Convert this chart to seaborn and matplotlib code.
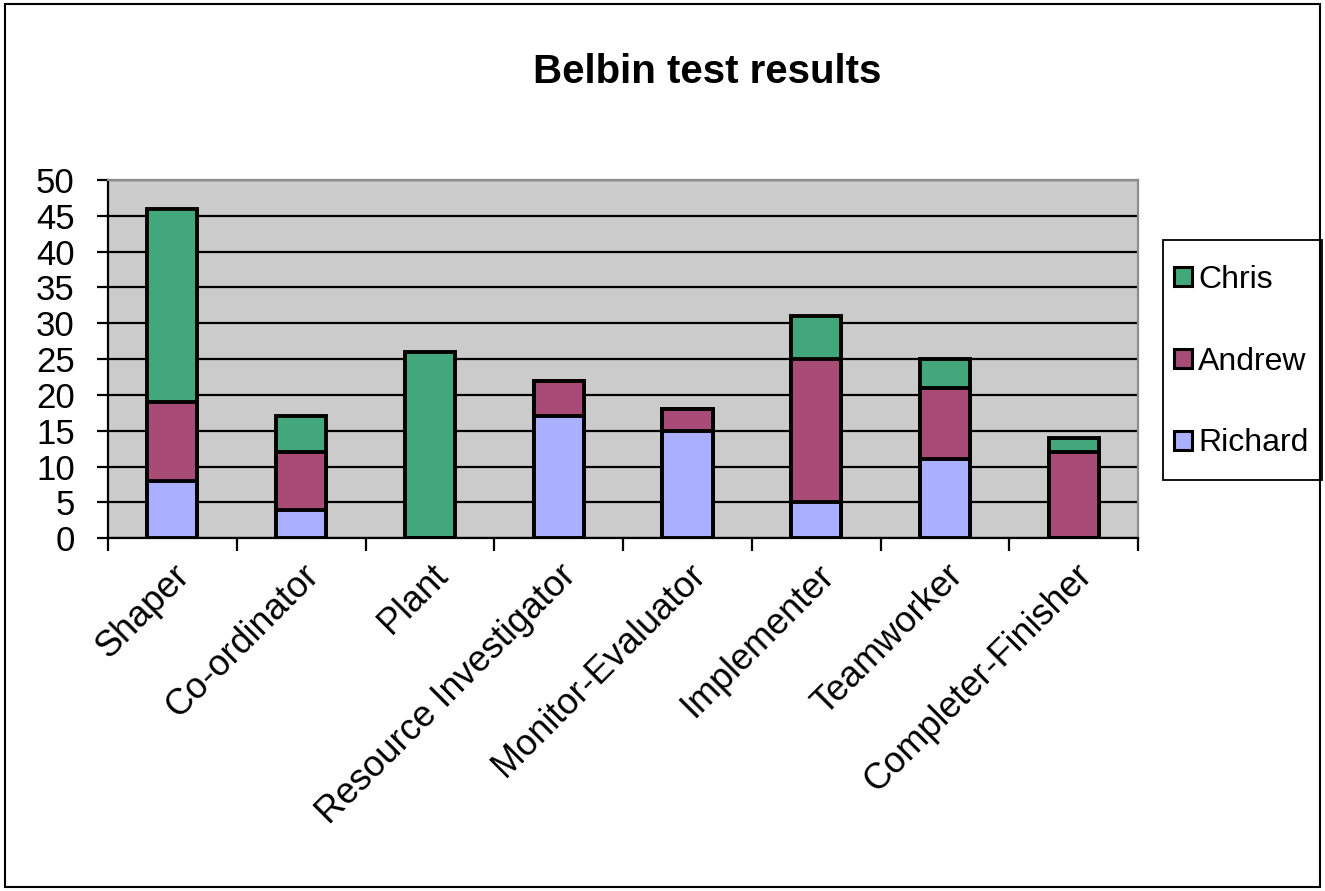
import numpy as np
import pandas as pd
import matplotlib
matplotlib.use("Agg")
import matplotlib.pyplot as plt
import seaborn as sns
from matplotlib.patches import Patch, Rectangle

roles = ["Shaper", "Co-ordinator", "Plant", "Resource Investigator",
         "Monitor-Evaluator", "Implementer", "Teamworker", "Completer-Finisher"]
richard = [8, 4, 0, 17, 15, 5, 11, 0]
andrew = [11, 8, 0, 5, 3, 20, 10, 12]
chris = [27, 5, 26, 0, 0, 6, 4, 2]

colors = {"Richard": "#AAB0FF", "Andrew": "#A84B77", "Chris": "#42A77B"}


def main():
    df = pd.DataFrame({"role": roles, "Richard": richard,
                       "Andrew": andrew, "Chris": chris})
    # cumulative heights so that the layers stack
    df["lvl_richard"] = df["Richard"]
    df["lvl_andrew"] = df["Richard"] + df["Andrew"]
    df["lvl_chris"] = df["lvl_andrew"] + df["Chris"]

    sns.set_theme(style="white", rc={"text.color": "black",
                                     "xtick.color": "black",
                                     "ytick.color": "black",
                                     "axes.labelcolor": "black"})
    plt.rcParams["font.family"] = ["Liberation Sans", "DejaVu Sans"]

    fig = plt.figure(figsize=(13.25, 8.91), dpi=100)
    ax = fig.add_axes([0.0815, 0.396, 0.7775, 0.402])
    ax.set_facecolor("#CBCBCB")

    for col, name in [("lvl_chris", "Chris"), ("lvl_andrew", "Andrew"),
                      ("lvl_richard", "Richard")]:
        sns.barplot(data=df, x="role", y=col, color=colors[name], width=0.39,
                    edgecolor="black", linewidth=2.8, saturation=1, ax=ax,
                    zorder=3)

    ax.set_ylim(0, 50)
    ax.set_xlim(-0.5, len(roles) - 0.5)
    ax.set_yticks(np.arange(0, 51, 5))
    ax.yaxis.grid(True, color="black", linewidth=1.6, zorder=1)
    ax.set_axisbelow(True)
    ax.set_xlabel("")
    ax.set_ylabel("")

    ax.set_xticks(range(len(roles)))
    ax.set_xticklabels(roles, rotation=45, ha="right", rotation_mode="anchor",
                       fontsize=26)
    ax.set_xticks(np.arange(-0.5, len(roles), 1), minor=True)
    ax.tick_params(axis="x", which="major", length=0, pad=14)
    ax.tick_params(axis="x", which="minor", length=9, width=1.6,
                   color="black", direction="out", bottom=True)
    ax.tick_params(axis="y", length=8, width=1.6, color="black",
                   direction="out", left=True, labelsize=25, pad=16)

    for s in ["left", "bottom"]:
        ax.spines[s].set_color("black")
        ax.spines[s].set_linewidth(1.6)
    for s in ["top", "right"]:
        ax.spines[s].set_color("#8C8C8C")
        ax.spines[s].set_linewidth(1.6)

    # legend drawn without its own frame; the box is a separate rectangle
    handles = [Patch(facecolor=colors[n], edgecolor="black", linewidth=2.2,
                     label=n) for n in ["Chris", "Andrew", "Richard"]]
    fig.legend(handles=handles, loc="center left",
               bbox_to_anchor=(0.886, 0.594), fontsize=23, frameon=False,
               handlelength=0.55, handleheight=0.55, handletextpad=0.2,
               labelspacing=1.62, borderpad=0, borderaxespad=0)
    fig.patches.append(Rectangle((0.8777, 0.4613), 0.12, 0.2693,
                                 transform=fig.transFigure, fill=False,
                                 edgecolor="black", linewidth=1.3))

    fig.text(0.534, 0.919, "Belbin test results", ha="center", va="center",
             fontsize=29, fontweight="bold")

    fig.patches.append(Rectangle((0.004, 0.004), 0.992, 0.992,
                                 transform=fig.transFigure, fill=False,
                                 edgecolor="black", linewidth=1.5))

    fig.savefig("out.png", dpi=100)
    plt.close(fig)


if __name__ == "__main__":
    main()
